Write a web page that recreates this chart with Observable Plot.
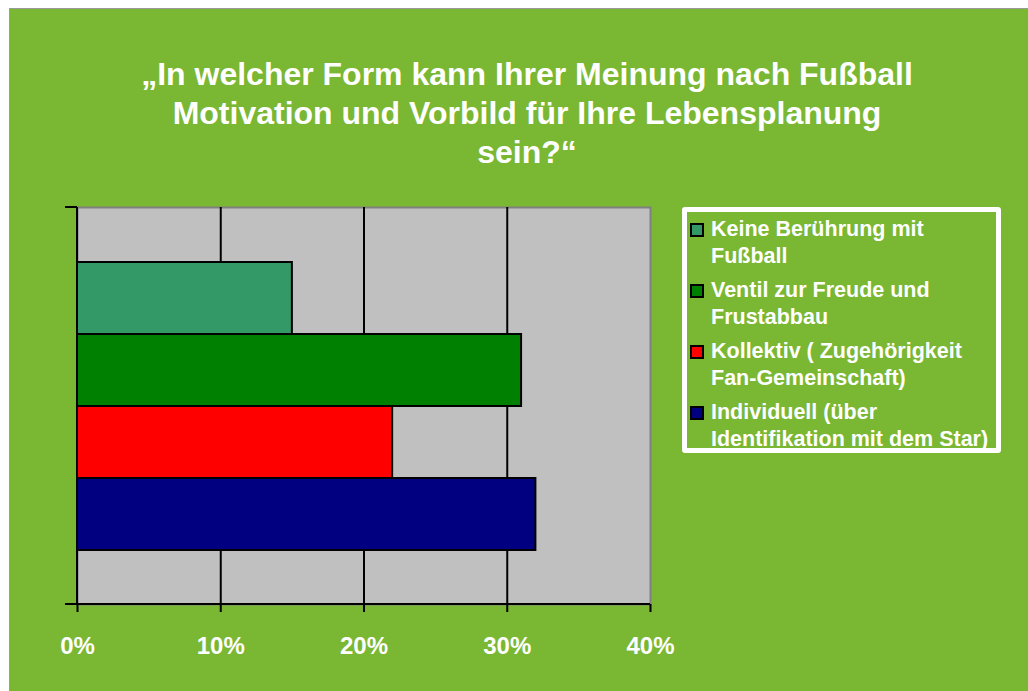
<!DOCTYPE html>
<html>
<head>
<meta charset="utf-8">
<script src="https://cdn.jsdelivr.net/npm/d3@7"></script>
<script src="https://cdn.jsdelivr.net/npm/@observablehq/plot@0.6"></script>
<style>
  html, body { margin: 0; padding: 0; background: #ffffff; }
  #page { position: relative; width: 1028px; height: 691px; overflow: hidden; }
  #bg { position: absolute; left: 9px; top: 8px; right: 0; bottom: 0; background: #7ab733; border-left: 1px solid #9a9a9a; border-top: 1px solid #9a9a9a; }
  #title { position: absolute; left: 0; width: 1054px; top: 55px; text-align: center; color: #fff;
           font-family: "Liberation Sans", Arial, sans-serif; font-weight: bold; font-size: 32px; line-height: 39px; }
  #chart { position: absolute; left: 0; top: 0; }
  #legend { position: absolute; left: 682px; top: 207px; width: 309px; height: 236px; border: 5px solid #fff; border-radius: 3px;
            font-family: "Liberation Sans", Arial, sans-serif; font-weight: bold; font-size: 21.5px; color: #fff; }
  .item { position: absolute; left: 24px; line-height: 27px; white-space: nowrap; }
  .sw { position: absolute; left: 3px; width: 10px; height: 10px; border: 2px solid #000; }
</style>
</head>
<body>
<div id="page">
  <div id="bg"></div>
  <div id="title">„In welcher Form kann Ihrer Meinung nach Fußball<br>Motivation und Vorbild für Ihre Lebensplanung<br>sein?“</div>
  <div id="chart"></div>
  <div id="legend"></div>
</div>
<script>
const categories = [
  "Keine Berührung mit Fußball",
  "Ventil zur Freude und Frustabbau",
  "Kollektiv ( Zugehörigkeit Fan-Gemeinschaft)",
  "Individuell (über Identifikation mit dem Star)"
];
const legendLines = [
  ["Keine Berührung mit", "Fußball"],
  ["Ventil zur Freude und", "Frustabbau"],
  ["Kollektiv ( Zugehörigkeit", "Fan-Gemeinschaft)"],
  ["Individuell (über", "Identifikation mit dem Star)"]
];
const values = [15, 31, 22, 32];
const colors = ["#339966", "#008000", "#ff0000", "#000080"];
const xTicks = [0, 10, 20, 30, 40];

const data = categories.map((c, i) => ({category: c, value: values[i]}));

const axisLines = (index, scales, values, dim) => {
  const g = d3.create("svg:g");
  const l = dim.marginLeft, r = dim.width - dim.marginRight;
  const t = dim.marginTop, b = dim.height - dim.marginBottom;
  g.append("line").attr("x1", l).attr("x2", r).attr("y1", b).attr("y2", b)
    .attr("stroke", "#000").attr("stroke-width", 2);
  g.append("line").attr("x1", l).attr("x2", l).attr("y1", t).attr("y2", b)
    .attr("stroke", "#000").attr("stroke-width", 2);
  for (const y of [t, b]) {
    g.append("line").attr("x1", l - 12).attr("x2", l).attr("y1", y).attr("y2", y)
      .attr("stroke", "#000").attr("stroke-width", 2);
  }
  return g.node();
};

const chart = Plot.plot({
  width: 1028,
  height: 691,
  marginLeft: 77,
  marginRight: 378,
  marginTop: 207,
  marginBottom: 87,
  style: {background: "transparent", overflow: "visible"},
  x: {domain: [0, 40], axis: null},
  y: {domain: categories, paddingInner: 0, paddingOuter: 0.74, axis: null},
  color: {domain: categories, range: colors},
  marks: [
    Plot.frame({fill: "#c0c0c0", stroke: "#808080", strokeWidth: 2}),
    Plot.ruleX([10, 20, 30], {stroke: "#000", strokeWidth: 2}),
    Plot.barX(data, {x: "value", y: "category", fill: "category", stroke: "#000", strokeWidth: 2}),
    axisLines,
    Plot.axisX(xTicks, {
      anchor: "bottom", tickSize: 8, tickPadding: 24, stroke: "#000", strokeWidth: 2, fill: "#fff",
      tickFormat: d => d + "%", fontSize: 24, fontWeight: "bold", fontFamily: "Liberation Sans, Arial, sans-serif", label: null
    })
  ]
});
document.getElementById("chart").appendChild(chart);

const legend = document.getElementById("legend");
categories.forEach((c, i) => {
  const top = 4 + i * 61;
  const item = document.createElement("div");
  item.className = "item";
  item.style.top = top + "px";
  item.innerHTML = legendLines[i].join("<br>");
  legend.appendChild(item);
  const sw = document.createElement("div");
  sw.className = "sw";
  sw.style.top = (top + 7) + "px";
  sw.style.background = colors[i];
  legend.appendChild(sw);
});
</script>
</body>
</html>
